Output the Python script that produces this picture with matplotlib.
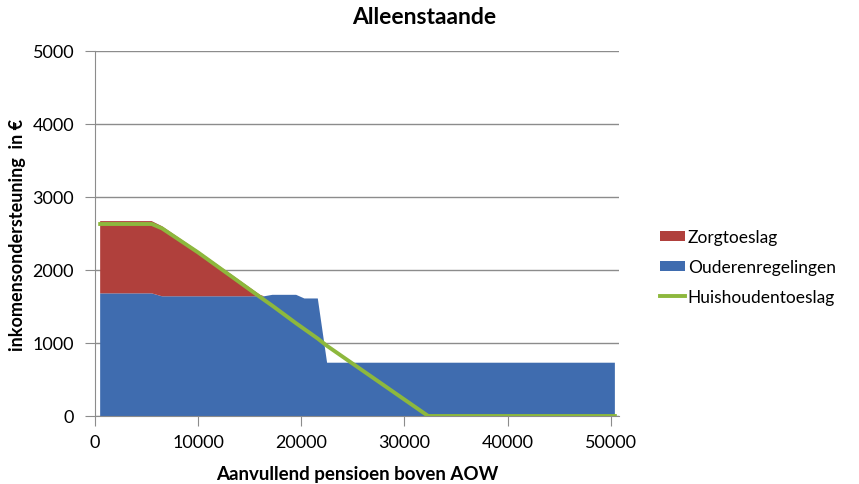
import matplotlib
matplotlib.use("Agg")
import matplotlib.pyplot as plt

plt.rcParams['font.family'] = ['Lato', 'DejaVu Sans']

# aanvullend pensioen (x) en bedragen in euro
pensioen = [500, 5500, 6500, 10000, 16000, 16400, 17200, 19500, 20300, 21600, 22500, 32300, 50400]
ouderen = [1680, 1680, 1640, 1640, 1640, 1640, 1660, 1660, 1610, 1610, 730, 730, 730]
zorg = [990, 990, 960, 620, 20, 0, 0, 0, 0, 0, 0, 0, 0]
huishouden = [2630, 2630, 2570, 2240, 1630, 1590, 1510, 1270, 1190, 1060, 960, 0, 0]

blue = '#3F6CAF'
red = '#B0403C'
green = '#8DB83D'

fig = plt.figure(figsize=(8.59, 4.85), dpi=100)
ax = fig.add_axes([95/859, 68/485, 524/859, 365/485])

ax.stackplot(pensioen, ouderen, zorg, colors=[blue, red], labels=['Ouderenregelingen', 'Zorgtoeslag'], zorder=2)
ax.plot(pensioen, huishouden, color=green, lw=2.8, label='Huishoudentoeslag', zorder=3)

ax.set_xlim(0, 50800)
ax.set_ylim(0, 5000)
ax.set_xticks([0, 10000, 20000, 30000, 40000, 50000])
ax.set_yticks([0, 1000, 2000, 3000, 4000, 5000])
ax.yaxis.grid(True, color='#8c8c8c', lw=1)
ax.set_axisbelow(True)
for s in ['top', 'right']:
    ax.spines[s].set_visible(False)
for s in ['left', 'bottom']:
    ax.spines[s].set_color('#8c8c8c')
ax.tick_params(axis='both', colors='#8c8c8c', labelcolor='black', labelsize=13, length=7)
ax.tick_params(axis='x', pad=6)
ax.tick_params(axis='y', pad=8)

fig.text(424/859, 1 - 17/485, 'Alleenstaande', fontsize=16.5, fontweight='bold',
         ha='center', va='center')
ax.set_xlabel('Aanvullend pensioen boven AOW', fontsize=13.5, fontweight='bold', labelpad=11)
ax.set_ylabel('inkomensondersteuning  in €', fontsize=13, fontweight='bold', labelpad=5)

h, l = ax.get_legend_handles_labels()
order = [1, 0, 2]
ax.legend([h[i] for i in order], [l[i] for i in order], loc='center left',
          bbox_to_anchor=(1 + 41/524, 0.408), borderaxespad=0, borderpad=0,
          frameon=False, fontsize=12.5, handlelength=1.45, handleheight=0.55,
          handletextpad=0.15, labelspacing=0.8)

fig.savefig('out.png', dpi=100)
